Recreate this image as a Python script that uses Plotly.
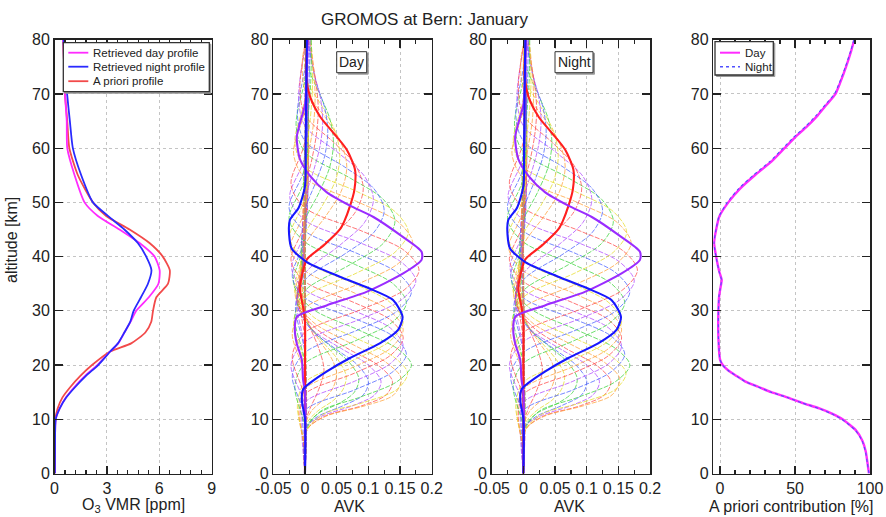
import plotly.graph_objects as go

FIG_W, FIG_H = 886, 517
FONT = "Liberation Sans, Arial, Helvetica, sans-serif"

# ---------------- Panel 1: O3 VMR profiles (ppm) ----------------
o3_alt = [0, 5, 10, 12, 14, 16, 18, 20, 22.5, 24, 26, 28, 30, 32.5, 35, 37.5, 40, 42.5, 45, 47.5, 50, 55, 60, 65, 70, 75, 80]
o3_day = [0.02, 0.03, 0.07, 0.3, 0.65, 1.15, 1.75, 2.45, 3.19, 3.65, 4.0, 4.36, 4.68, 5.4, 5.95, 6.02, 5.73, 4.87, 3.72, 2.48, 1.72, 1.15, 0.73, 0.7, 0.6, 0.55, 0.5]
o3_night = [0.02, 0.03, 0.07, 0.3, 0.67, 1.2, 1.8, 2.5, 3.19, 3.63, 4.0, 4.34, 4.53, 4.95, 5.35, 5.55, 5.25, 4.77, 4.0, 3.06, 2.2, 1.53, 1.05, 0.88, 0.72, 0.6, 0.52]
o3_apriori = [0.02, 0.03, 0.05, 0.18, 0.45, 0.92, 1.48, 2.15, 3.19, 4.39, 5.2, 5.54, 5.64, 5.83, 6.5, 6.6, 6.2, 5.44, 4.3, 2.96, 2.2, 1.34, 0.85, 0.73, 0.6, 0.55, 0.5]

# ---------------- Panels 2/3: averaging kernels (AVK) ----------------
# thin kernels, each (altitudes km, AVK values); colours cycle through avk_palette
avk_lower = [
    ([0, 9, 12, 15, 19, 23, 27, 31, 36, 44, 80], [0, 0, 0.008, 0.02, 0.03, 0.022, 0.008, -0.002, -0.005, 0, 0.001]),
    ([0, 9, 11.5, 14, 16, 18.5, 21, 25, 29, 34, 42, 80], [0, 0.001, 0.01, 0.033, 0.045, 0.05, 0.043, 0.02, 0, -0.008, 0, 0.001]),
    ([0, 9, 11.5, 13.5, 15.5, 18, 21, 24, 28, 33, 41, 80], [0, 0.002, 0.02, 0.045, 0.06, 0.065, 0.052, 0.03, 0.003, -0.01, 0, 0.002]),
    ([0, 8.5, 11, 13, 15, 17.5, 20.5, 23.5, 27, 32, 40, 80], [0, 0.002, 0.02, 0.055, 0.078, 0.085, 0.07, 0.04, 0.008, -0.012, -0.002, 0.002]),
    ([0, 8.5, 10.5, 12.5, 14.5, 17, 20, 23, 26.5, 31, 39, 80], [0, 0.002, 0.02, 0.06, 0.092, 0.1, 0.083, 0.048, 0.01, -0.012, -0.003, 0.002]),
    ([0, 8.5, 10.5, 12.5, 14.5, 17, 20, 23, 26.5, 31, 39, 80], [0, 0.002, 0.025, 0.075, 0.11, 0.12, 0.1, 0.058, 0.012, -0.012, -0.002, 0.002]),
    ([0, 8, 10.5, 12.5, 14.5, 17, 20, 23, 27, 31.5, 40, 80], [0, 0.003, 0.03, 0.09, 0.128, 0.138, 0.115, 0.068, 0.015, -0.012, -0.002, 0.002]),
    ([0, 8, 10.5, 12.5, 14.5, 17.5, 20.5, 24, 28, 32.5, 40, 80], [0, 0.003, 0.032, 0.095, 0.14, 0.152, 0.128, 0.072, 0.012, -0.015, -0.003, 0.002]),
    ([0, 8, 11, 13, 15.5, 18.5, 21.5, 25, 29, 33.5, 41, 80], [0, 0.003, 0.03, 0.09, 0.145, 0.162, 0.14, 0.08, 0.012, -0.016, -0.003, 0.002]),
    ([0, 8, 11.5, 14, 17, 20, 23, 26.5, 30.5, 35, 42, 80], [0, 0.002, 0.025, 0.085, 0.146, 0.168, 0.146, 0.084, 0.01, -0.018, -0.003, 0.002]),
]
avk_middle = [
    ([0, 7.7, 11.6, 15.5, 18.8, 22, 25.3, 28.5, 32.4, 36.3, 43.5, 80], [0, -0.003, 0, 0.08, 0.139, 0.16, 0.139, 0.08, 0, -0.02, 0, 0.002]),
    ([0, 9.2, 13.1, 17, 20.3, 23.5, 26.8, 30, 33.9, 37.8, 45, 80], [0, -0.005, 0, 0.078, 0.135, 0.155, 0.135, 0.078, 0, -0.021, 0, 0.002]),
    ([0, 4, 10.7, 14.6, 18.5, 21.8, 25, 28.3, 31.5, 35.4, 39.3, 46.5, 80], [0, 0, -0.008, 0, 0.078, 0.135, 0.155, 0.135, 0.078, 0, -0.022, 0, 0.002]),
    ([0, 4.1, 11.5, 15.6, 19.7, 23.1, 26.5, 29.9, 33.3, 37.4, 41.5, 48.9, 80], [0, 0, -0.01, 0, 0.078, 0.135, 0.155, 0.135, 0.078, 0, -0.023, 0, 0.002]),
    ([0, 4.9, 12.6, 16.8, 21, 24.5, 28, 31.5, 35, 39.2, 43.4, 51.1, 80], [0, 0, -0.012, 0, 0.078, 0.135, 0.155, 0.135, 0.078, 0, -0.024, 0, 0.002]),
    ([0, 8.4, 16.1, 20.3, 24.5, 28, 31.5, 35, 38.5, 42.7, 46.9, 54.6, 80], [0, 0, -0.016, 0, 0.08, 0.139, 0.16, 0.139, 0.08, 0, -0.025, 0, 0.002]),
    ([0, 10.4, 18.1, 22.3, 26.5, 30, 33.5, 37, 40.5, 44.7, 48.9, 56.6, 80], [0, 0, -0.02, 0, 0.084, 0.146, 0.168, 0.146, 0.084, 0, -0.025, 0, 0.002]),
    ([0, 12.4, 20.1, 24.3, 28.5, 32, 35.5, 39, 42.5, 46.7, 50.9, 58.6, 80], [0, 0, -0.022, 0, 0.088, 0.152, 0.175, 0.152, 0.088, 0, -0.024, 0, 0.002]),
    ([0, 13.7, 21.7, 26, 30.3, 33.9, 37.5, 41.1, 44.7, 49, 53.3, 61.3, 80], [0, 0, -0.02, 0, 0.09, 0.157, 0.18, 0.157, 0.09, 0, -0.022, 0, 0.002]),
    ([0, 17.8, 26, 30.5, 35, 38.8, 42.5, 46.3, 50, 54.5, 59, 67.3, 80], [0, 0, -0.02, 0, 0.085, 0.148, 0.17, 0.148, 0.085, 0, -0.018, 0, 0.003]),
    ([0, 19.8, 28, 32.5, 37, 40.8, 44.5, 48.3, 52, 56.5, 61, 69.3, 80], [0, 0, -0.018, 0, 0.082, 0.142, 0.163, 0.142, 0.082, 0, -0.016, 0, 0.003]),
    ([0, 20.1, 28.9, 33.7, 38.5, 42.5, 46.5, 50.5, 54.5, 59.3, 64.1, 72.9, 80], [0, 0, -0.016, 0, 0.071, 0.124, 0.142, 0.124, 0.071, 0, -0.014, 0, 0.003]),
    ([0, 22.1, 30.9, 35.7, 40.5, 44.5, 48.5, 52.5, 56.5, 61.3, 66.1, 74.9, 80], [0, 0, -0.015, 0, 0.063, 0.109, 0.125, 0.109, 0.063, 0, -0.012, 0, 0.003]),
    ([0, 22.5, 31.8, 36.9, 42, 46.3, 50.5, 54.8, 59, 64.1, 69.2, 78.5, 80], [0, 0, -0.013, 0, 0.054, 0.094, 0.108, 0.094, 0.054, 0, -0.01, 0, 0.002]),
    ([0, 24.5, 33.8, 38.9, 44, 48.3, 52.5, 56.8, 61, 66.1, 71.2, 80], [0, 0, -0.011, 0, 0.046, 0.08, 0.092, 0.08, 0.046, 0, -0.008, 0.002]),
]
avk_upper = [
    ([0, 26.8, 36.7, 42.1, 47.5, 52, 56.5, 61, 65.5, 70.9, 76.3, 80], [0, 0, -0.008, 0, 0.033, 0.057, 0.066, 0.057, 0.033, 0, -0.004, 0.002]),
    ([0, 28.8, 38.7, 44.1, 49.5, 54, 58.5, 63, 67.5, 72.9, 80], [0, 0, -0.007, 0, 0.028, 0.048, 0.055, 0.048, 0.028, 0.002, 0.002]),
    ([0, 31.3, 41.2, 46.6, 52, 56.5, 61, 65.5, 70, 75.4, 80], [0, 0, -0.006, 0, 0.023, 0.039, 0.045, 0.039, 0.023, 0.004, 0.003]),
    ([0, 33.3, 43.2, 48.6, 54, 58.5, 63, 67.5, 72, 80], [0, 0, -0.005, 0, 0.018, 0.031, 0.036, 0.031, 0.018, 0.004]),
    ([0, 35.3, 45.2, 50.6, 56, 60.5, 65, 69.5, 74, 80], [0, 0, -0.004, 0, 0.014, 0.024, 0.028, 0.024, 0.014, 0.005]),
    ([0, 37.3, 47.2, 52.6, 58, 62.5, 67, 71.5, 76, 80], [0, 0, -0.003, 0, 0.011, 0.018, 0.021, 0.018, 0.012, 0.007]),
    ([0, 40, 50, 55, 60.5, 65, 69.5, 74, 80], [0, 0, -0.003, 0, 0.008, 0.014, 0.016, 0.014, 0.009]),
    ([0, 42, 52, 58, 63, 67.5, 72, 76, 80], [0, 0, -0.002, 0, 0.006, 0.01, 0.012, 0.011, 0.009]),
    ([0, 45, 55, 60, 66, 72, 80], [0, 0, -0.002, 0, 0.005, 0.009, 0.01]),
    ([0, 50, 60, 70, 80], [0, 0, 0.002, 0.006, 0.008]),
    ([0, 50, 65, 80], [0, 0, 0.003, 0.006]),
    ([0, 55, 70, 80], [0, 0, 0.002, 0.004]),
    ([0, 60, 80], [0, 0, 0.002]),
]
avk_palette = ["#ff4a4a", "#ffa23a", "#e6dc2a", "#3ed43e", "#4a62ff", "#b04aff"]

# highlighted kernels (bold)
avk_blue_alt = [0, 10, 13.6, 15.5, 16.7, 18.8, 21.3, 24, 26.5, 28.9, 32, 34.2, 36.3, 39, 41.5, 44, 46.7, 49, 53, 60, 70, 80]
avk_blue_val = [0, 0, -0.005, -0.003, 0.008, 0.034, 0.071, 0.118, 0.147, 0.154, 0.139, 0.1, 0.055, 0.003, -0.021, -0.025, -0.024, -0.01, 0, 0.001, 0.002, 0.003]
avk_purple_alt = [0, 15, 17.3, 21, 24, 26.5, 28.9, 31, 33.5, 36.9, 39.4, 40.9, 44, 47.3, 49.4, 51.9, 54.9, 58, 62, 64.6, 68, 75, 80]
avk_purple_val = [0, 0, -0.003, -0.005, -0.013, -0.016, -0.013, 0.034, 0.097, 0.155, 0.184, 0.184, 0.15, 0.108, 0.071, 0.034, 0.008, -0.008, -0.013, -0.008, 0, 0.003, 0.004]
avk_red_alt = [0, 20, 28, 30.7, 34, 36.4, 39.5, 42, 45, 46.5, 49.3, 52.3, 56, 59.7, 62.8, 65.8, 69.5, 73, 80]
avk_red_val = [0, 0, 0, -0.003, -0.008, -0.005, 0.003, 0.029, 0.055, 0.062, 0.071, 0.078, 0.079, 0.066, 0.045, 0.024, 0.008, 0.002, 0.004]

# ---------------- Panel 4: a priori contribution (%) ----------------
apc_alt = [0, 2, 4, 6, 8, 10, 11, 12, 13, 14, 15, 16, 17, 18, 19, 20, 21, 25, 30, 32.7, 33.8, 34.6, 35.7, 37.2, 40, 42.5, 45, 47.4, 50, 52.5, 55, 57.5, 60, 62, 64, 66, 68, 70, 72, 75, 78, 80]
apc_day = [99.3, 98.3, 97.2, 95, 90.5, 81.7, 75, 66.2, 55.2, 45.3, 34.2, 25.4, 16.6, 11, 5.5, 1.8, 0, -1.1, -1.1, -0.6, 0, 0.5, 1.1, -0.5, -2.6, -4, -2.6, -0.5, 5.5, 13.2, 23.2, 34.2, 43, 50, 58, 65, 71, 77, 80, 84, 87.5, 89.5]
apc_night = [99.3, 98.2, 97, 94.8, 90.2, 81.2, 74.5, 65.8, 54.8, 45, 34, 25.2, 16.4, 10.8, 5.4, 1.7, 0, -1.1, -1.1, -0.7, -0.1, 0.4, 1.0, -0.6, -2.7, -4.1, -2.7, -0.7, 4.8, 12.3, 22.1, 33.1, 42, 49, 57, 64, 70.2, 76.3, 79.5, 83.6, 87.2, 89.3]

# ---------------- axis labels ----------------
alt_ticks = [0, 10, 20, 30, 40, 50, 60, 70, 80]
vmr_ticks = [0, 3, 6, 9]
avk_ticks = [-0.05, 0, 0.05, 0.1, 0.15, 0.2]
avk_ticktext = ["-0.05", "0", "0.05", "0.1", "0.15", "0.2"]
apc_ticks = [0, 50, 100]

MAGENTA = "#ff2bff"
BLUE = "#2a2aff"
RED = "#f24a4a"
NIGHT_BLUE = "#5050ff"


def px(x):
    return x / FIG_W


def py(y):
    return 1 - y / FIG_H


fig = go.Figure()

# panel 1
for vals, name, col in [(o3_apriori, "A priori profile", RED),
                        (o3_day, "Retrieved day profile", MAGENTA),
                        (o3_night, "Retrieved night profile", BLUE)]:
    fig.add_trace(go.Scatter(x=vals, y=o3_alt, mode="lines", name=name, xaxis="x", yaxis="y",
                             line=dict(color=col, width=1.8, shape="spline", smoothing=0.6),
                             showlegend=False, hoverinfo="skip"))

# panels 2 & 3 (day and night kernels)
thin = avk_lower + avk_middle + avk_upper
for ax_x, ax_y in [("x2", "y2"), ("x3", "y3")]:
    for i, (a, v) in enumerate(thin):
        fig.add_trace(go.Scatter(x=v, y=a, mode="lines", xaxis=ax_x, yaxis=ax_y, showlegend=False,
                                 hoverinfo="skip", opacity=0.75,
                                 line=dict(color=avk_palette[i % 6], width=1, dash="5px,1.5px",
                                           shape="spline", smoothing=0.9)))
    for a, v, col in [(avk_red_alt, avk_red_val, "#ff1f1f"),
                      (avk_purple_alt, avk_purple_val, "#9a2cff"),
                      (avk_blue_alt, avk_blue_val, "#1717ff")]:
        fig.add_trace(go.Scatter(x=v, y=a, mode="lines", xaxis=ax_x, yaxis=ax_y, showlegend=False,
                                 hoverinfo="skip",
                                 line=dict(color=col, width=2.1, shape="spline", smoothing=0.7)))

# panel 4
fig.add_trace(go.Scatter(x=apc_day, y=apc_alt, mode="lines", name="Day", xaxis="x4", yaxis="y4",
                         line=dict(color=MAGENTA, width=2.4, shape="spline", smoothing=0.5),
                         showlegend=False, hoverinfo="skip"))
fig.add_trace(go.Scatter(x=apc_night, y=apc_alt, mode="lines", name="Night", xaxis="x4", yaxis="y4",
                         line=dict(color=NIGHT_BLUE, width=1.1, dash="3px,3px", shape="spline", smoothing=0.5),
                         showlegend=False, hoverinfo="skip"))

AX = "#222222"
GRID = "#c4c4c4"
ydom = [py(473.5), py(39.7)]
xdoms = [[px(54.5), px(211.7)], [px(273.3), px(431.7)], [px(491.7), px(650.1)], [px(713.3), px(870)]]


def xax(dom, rng, tickvals, ticktext, minor_dtick, anchor):
    return dict(domain=dom, range=rng, tickmode="array", tickvals=tickvals, ticktext=ticktext,
                showline=True, linecolor=AX, linewidth=1.5, mirror="ticks", ticks="inside",
                ticklen=8, tickwidth=1.2, tickcolor=AX, showgrid=True, gridcolor=GRID,
                griddash="dot", gridwidth=1, zeroline=False, tickangle=0, automargin=False,
                minor=dict(tick0=0, dtick=minor_dtick, ticks="inside", ticklen=4, tickwidth=1.2,
                           tickcolor=AX, showgrid=False),
                tickfont=dict(family=FONT, size=16, color=AX), anchor=anchor, fixedrange=True)


def yax(anchor):
    return dict(domain=ydom, range=[0, 80], tickmode="array", tickvals=alt_ticks,
                ticktext=[str(t) for t in alt_ticks], showline=True, linecolor=AX, linewidth=1.5,
                mirror="ticks", ticks="inside", ticklen=8, tickwidth=1.2, tickcolor=AX,
                showgrid=True, gridcolor=GRID, griddash="dot", gridwidth=1, zeroline=False,
                automargin=False, ticklabelstandoff=0,
                tickfont=dict(family=FONT, size=16, color=AX), anchor=anchor, fixedrange=True)


layout = dict(
    width=FIG_W, height=FIG_H, margin=dict(l=0, r=0, t=0, b=0, autoexpand=False),
    paper_bgcolor="white", plot_bgcolor="white", showlegend=False,
    font=dict(family=FONT, size=16, color=AX),
    xaxis=xax(xdoms[0], [0, 9], vmr_ticks, [str(t) for t in vmr_ticks], 0.6, "y"),
    xaxis2=xax(xdoms[1], [-0.05, 0.2], avk_ticks, avk_ticktext, 0.025, "y2"),
    xaxis3=xax(xdoms[2], [-0.05, 0.2], avk_ticks, avk_ticktext, 0.025, "y3"),
    xaxis4=xax(xdoms[3], [-4.5, 100], apc_ticks, [str(t) for t in apc_ticks], 10, "y4"),
    yaxis=yax("x"), yaxis2=yax("x2"), yaxis3=yax("x3"), yaxis4=yax("x4"),
)
fig.update_layout(**layout)

ann = []
shapes = []


def text(x, y, s, size=16, xanchor="center", angle=0):
    ann.append(dict(x=px(x), y=py(y), xref="paper", yref="paper", text=s, showarrow=False,
                    xanchor=xanchor, yanchor="middle", textangle=angle,
                    font=dict(family=FONT, size=size, color=AX)))


text(424, 19, "GROMOS at Bern: January", 17)
text(133, 505, "O<sub>3</sub> VMR [ppm]")
text(349, 506.5, "AVK")
text(569, 506.5, "AVK")
text(791, 506, "A priori contribution [%]")
text(12, 240, "altitude [km]", angle=-90)


def box(x0, y0, x1, y1, w=1.3):
    shapes.append(dict(type="rect", xref="paper", yref="paper", x0=px(x0 + 1.5), y0=py(y1 + 1.5),
                       x1=px(x1 + 1.5), y1=py(y0 + 1.5), line=dict(color="#9a9a9a", width=1),
                       fillcolor="#9a9a9a", layer="above"))
    shapes.append(dict(type="rect", xref="paper", yref="paper", x0=px(x0), y0=py(y1), x1=px(x1),
                       y1=py(y0), line=dict(color="#333333", width=w), fillcolor="white", layer="above"))


def sample(x0, x1, y, col, dash="solid", w=1.8):
    shapes.append(dict(type="line", xref="paper", yref="paper", x0=px(x0), x1=px(x1), y0=py(y), y1=py(y),
                       line=dict(color=col, width=w, dash=dash), layer="above"))


# legend panel 1
box(63.3, 42.7, 209.3, 91.7)
for yy, col, lab in [(52.7, MAGENTA, "Retrieved day profile"), (66.7, BLUE, "Retrieved night profile"),
                     (81.2, RED, "A priori profile")]:
    sample(68.3, 88.3, yy, col)
    text(90.5, yy, lab, 11.5, xanchor="left")

# legend panel 4
box(715, 41.7, 773.3, 75)
sample(720, 740, 52.7, MAGENTA, w=2)
sample(720, 740, 66.7, NIGHT_BLUE, dash="dot", w=1.5)
text(742.5, 52.7, "Day", 11.5, xanchor="left")
text(742.5, 66.7, "Night", 11.5, xanchor="left")

# Day / Night labels
box(336.7, 51.7, 366.7, 72.7, 1)
text(351.7, 62.2, "Day", 14)
box(555, 51.7, 593, 72.7, 1)
text(574, 62.2, "Night", 14)

fig.update_layout(annotations=ann, shapes=shapes)
fig.write_html("out.html", config={"displayModeBar": False, "staticPlot": True},
               post_script="document.body.style.margin='0';document.body.style.overflow='hidden';")
